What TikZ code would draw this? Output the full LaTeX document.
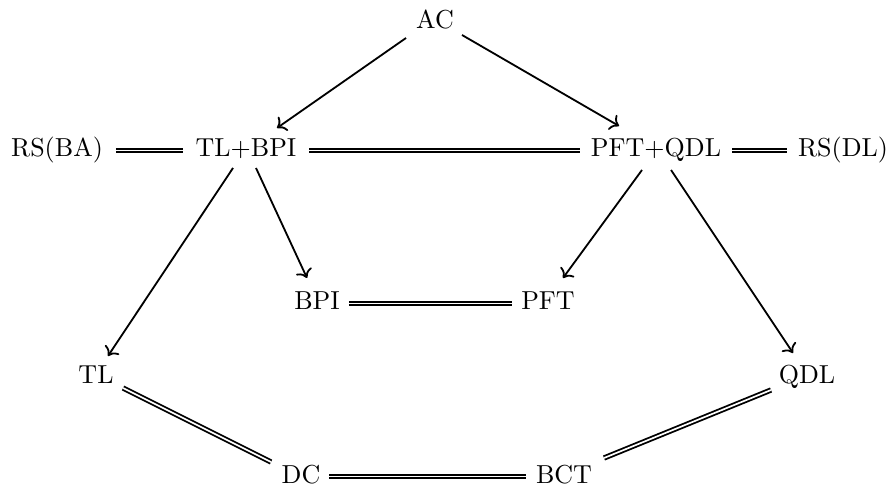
\documentclass[tikz,border=0pt]{standalone}
\usetikzlibrary{arrows.meta}
\begin{document}
\begin{tikzpicture}[x=0.3846pt,y=-0.3846pt,
  lbl/.style={inner sep=0pt, outer sep=0pt, anchor=base},
  arr/.style={line width=0.7pt, -{To}},
  eq/.style={line width=0.7pt, double, double distance=0.65pt}]
\useasboundingbox (0,0) rectangle (890,485);
\node[lbl] (ac) at (435,29) {AC};
\node[lbl] (rsba) at (57,157) {RS(BA)};
\node[lbl] (tlbpi) at (246,157) {TL+BPI};
\node[lbl] (pqd) at (656,157) {PFT+QDL};
\node[lbl] (rsdl) at (843,157) {RS(DL)};
\node[lbl] (bpi) at (317,310) {BPI};
\node[lbl] (pft) at (548,310) {PFT};
\node[lbl] (tl) at (96,383) {TL};
\node[lbl] (qdl) at (807,383) {QDL};
\node[lbl] (dc) at (301,483) {DC};
\node[lbl] (bct) at (564,483) {BCT};
% arrows
\draw[arr] ([shift={(-29,9)}]ac.base) -- ([shift={(31,-29)}]tlbpi.base);
\draw[arr] ([shift={(27,6)}]ac.base) -- ([shift={(-37,-31)}]pqd.base);
\draw[arr] ([shift={(-13,11)}]tlbpi.base) -- ([shift={(12,-27)}]tl.base);
\draw[arr] ([shift={(10,11)}]tlbpi.base) -- ([shift={(-10,-32)}]bpi.base);
\draw[arr] ([shift={(-14,13)}]pqd.base) -- ([shift={(15,-32)}]pft.base);
\draw[arr] ([shift={(15,13)}]pqd.base) -- ([shift={(-14,-30)}]qdl.base);
% equalities
\draw[eq] ([shift={(13,-6.5)}]rsba.base east) -- ([shift={(-13,-6.5)}]tlbpi.base west);
\draw[eq] ([shift={(13,-6.5)}]tlbpi.base east) -- ([shift={(-11,-6.5)}]pqd.base west);
\draw[eq] ([shift={(11,-6.5)}]pqd.base east) -- ([shift={(-11,-6.5)}]rsdl.base west);
\draw[eq] ([shift={(9,-6.5)}]bpi.base east) -- ([shift={(-9,-6.5)}]pft.base west);
\draw[eq] ([shift={(9,-6.5)}]dc.base east) -- ([shift={(-10,-6.5)}]bct.base west);
\draw[eq] ([shift={(27,5)}]tl.base) -- ([shift={(-30,-21)}]dc.base);
\draw[eq] ([shift={(-36,7)}]qdl.base) -- ([shift={(40,-25)}]bct.base);
\end{tikzpicture}
\end{document}
